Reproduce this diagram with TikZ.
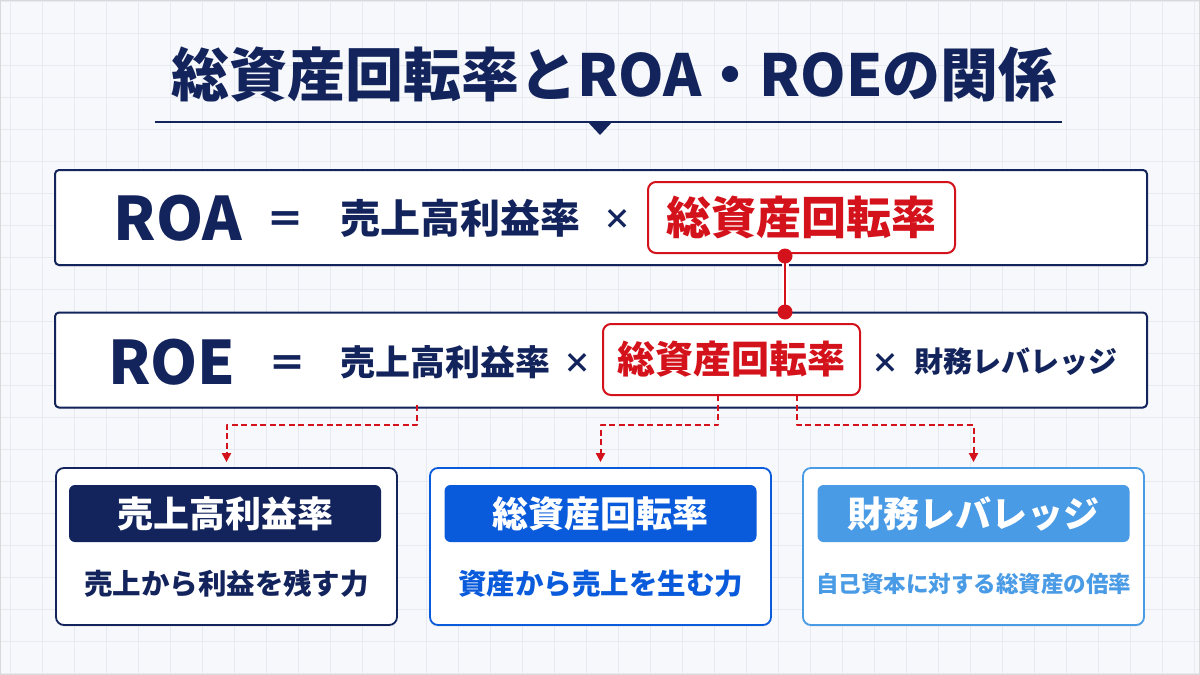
\documentclass[tikz,border=0pt]{standalone}
\usepackage{fontspec}
\setmainfont{Noto Sans CJK JP}
\usepackage{tikz}
\usetikzlibrary{arrows.meta, calc, shadows}
\definecolor{navy}{HTML}{13245C}
\definecolor{accred}{HTML}{D4121B}
\definecolor{midblue}{HTML}{0A5BDB}
\definecolor{skyblue}{HTML}{4A9BE5}
\definecolor{paper}{HTML}{F6F8FB}
\definecolor{gridc}{HTML}{E7EBF1}
\newcommand{\fsz}[1]{\fontsize{#1}{#1}\selectfont}

\begin{document}
\begin{tikzpicture}[x=1pt, y=-1pt, line join=round,
	rowbox/.style={draw=navy, line width=2pt, fill=white, rounded corners=4pt,
		minimum width=1092pt, minimum height=95pt, inner sep=0pt,
		drop shadow={shadow xshift=0pt, shadow yshift=-1.5pt, opacity=0.2}},
	hilite/.style={draw=accred, line width=2pt, fill=white, rounded corners=8pt,
		minimum height=71pt, inner sep=0pt, text=accred, font=\bfseries\fsz{#1}},
	term/.style={inner sep=0pt, text=navy, font=\bfseries\fsz{#1}},
	card/.style={draw=#1, line width=1.8pt, fill=white, rounded corners=8pt,
		minimum width=341pt, minimum height=157pt, inner sep=0pt,
		drop shadow={shadow xshift=0pt, shadow yshift=-1.5pt, opacity=0.15}},
	cardhead/.style={fill=#1, rounded corners=6pt, minimum width=312pt, minimum height=57pt,
		inner sep=0pt, text=white, font=\bfseries\fsz{36}},
	dashlink/.style={draw=accred, line width=2pt, dash pattern=on 6pt off 3.5pt,
		-{Triangle[length=9pt, width=9pt]}, shorten >=5pt}
	]

	\useasboundingbox (0,0) rectangle (1200,675);
	\fill[paper] (0,0) rectangle (1200,675);
	\foreach \gx in {10,42,...,1200}
		\draw[gridc, line width=0.8pt] (\gx,0) -- (\gx,675);
	\foreach \gy in {1,33,...,675}
		\draw[gridc, line width=0.8pt] (0,\gy) -- (1200,\gy);
	\draw[black!15, line width=1.5pt] (0,0) rectangle (1200,675);

	% title
	\node[term=58] (title) at (614,75) {総資産回転率とROA・ROEの関係};
	\draw[navy, line width=2.5pt] (155,122) -- (1062,122);
	\fill[navy] (587,121) -- (613,121) -- (600,135) -- cycle;

	% ROA row
	\node[rowbox] (roa) at (601,217.5) {};
	\node[term=60] (roaname) at (178,218) {ROA};
	\node[term=38] (roaeq) at (285,223) {＝};
	\node[term=40] (roamargin) at (460,218) {売上高利益率};
	\node[term=28] (roatimes) at (617,219) {×};
	\node[hilite=45, minimum width=307pt] (roaturn) at (801.5,217.5) {総資産回転率};

	% ROE row
	\node[rowbox] (roe) at (601,360) {};
	\node[term=60] (roename) at (172,362) {ROE};
	\node[term=38] (roeeq) at (287,367) {＝};
	\node[term=35] (roemargin) at (445,362) {売上高利益率};
	\node[term=28] (roetimes) at (577,363) {×};
	\node[hilite=38, minimum width=257pt] (roeturn) at (731.5,359.5) {総資産回転率};
	\node[term=28] (roetimesb) at (885,363) {×};
	\node[term=29] (roelever) at (1016,362) {財務レバレッジ};

	% link between the two turnover terms
	\coordinate (linka) at (785,256);
	\coordinate (linkb) at (785,312);
	\draw[white, line width=7pt] (linka) -- (linkb);
	\draw[accred, line width=2.5pt] (linka) -- (linkb);
	\fill[accred] (linka) circle (7.5pt) (linkb) circle (7.5pt);

	% cards
	\node[card=navy] (cardm) at (226.5,546.5) {};
	\node[card=midblue] (cardt) at (600.5,546.5) {};
	\node[card=skyblue] (cardl) at (973.5,546.5) {};

	\node[cardhead=navy] (headm) at (225,513.5) {売上高利益率};
	\node[cardhead=midblue] (headt) at (600.5,513.5) {総資産回転率};
	\node[cardhead=skyblue] (headl) at (973.5,513.5) {財務レバレッジ};

	\node[term=28.5] (notem) at (226.5,584) {売上から利益を残す力};
	\node[term=28.5, text=midblue] (notet) at (600.5,584) {資産から売上を生む力};
	\node[term=22.5, text=skyblue] (notel) at (973.5,584) {自己資本に対する総資産の倍率};

	% dashed links
	\coordinate (fromm) at (417,405);
	\coordinate (fromt) at (718,395);
	\coordinate (froml) at (797,395);
	\draw[dashlink] (fromm) -- (417,425) -| (cardm.north);
	\draw[dashlink] (fromt) -- (718,425) -| (cardt.north);
	\draw[dashlink] (froml) -- (797,425) -| (cardl.north);

\end{tikzpicture}
\end{document}
